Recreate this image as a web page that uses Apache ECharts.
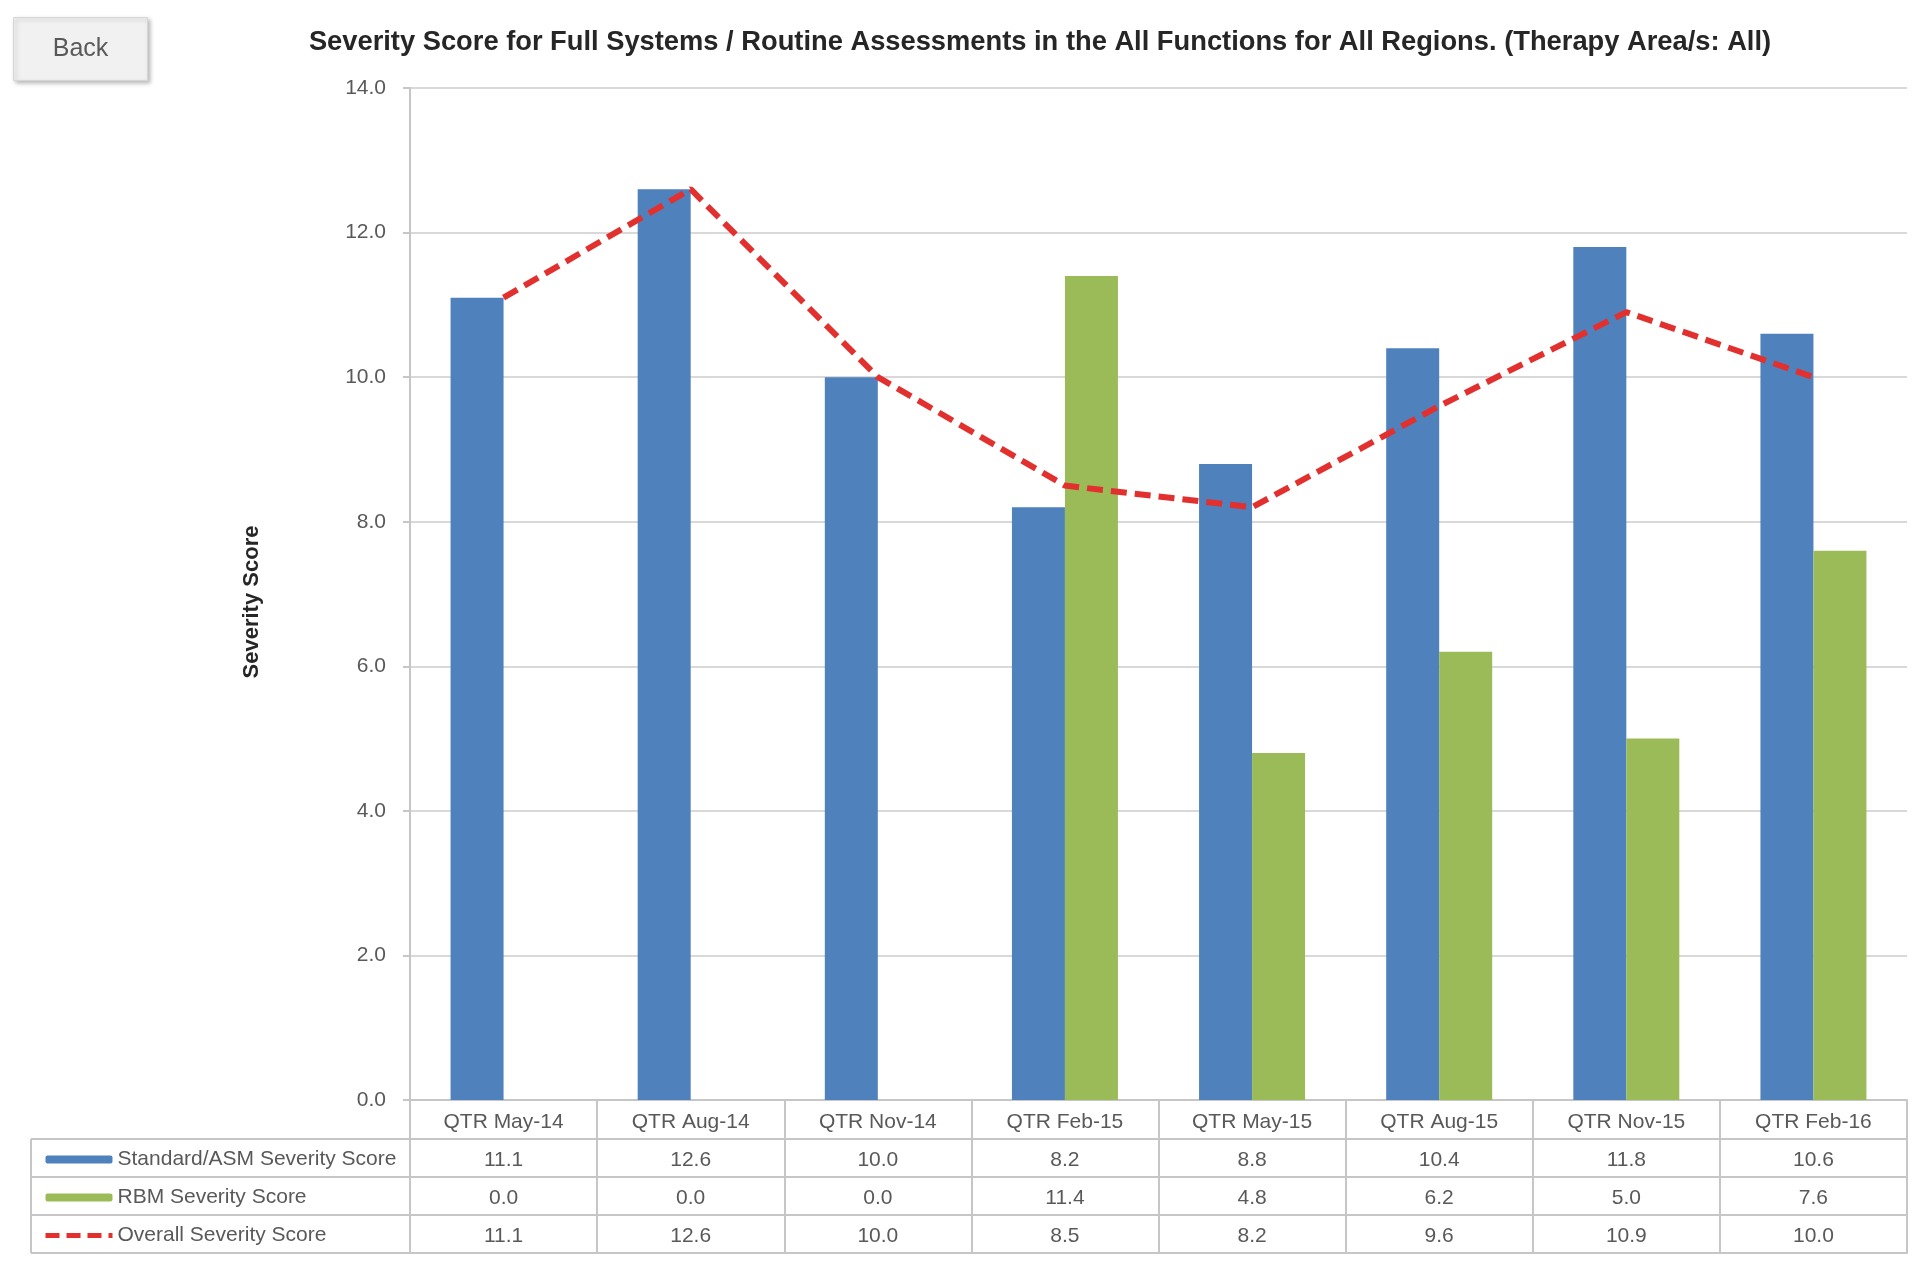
<!DOCTYPE html>
<html>
<head>
<meta charset="utf-8">
<script src="https://cdn.jsdelivr.net/npm/echarts@6/dist/echarts.min.js"></script>
<style>
html,body{margin:0;padding:0;background:#fff;}
#main{width:1920px;height:1263px;}
</style>
</head>
<body>
<div id="main"></div>
<script>
var categories = ['QTR May-14','QTR Aug-14','QTR Nov-14','QTR Feb-15','QTR May-15','QTR Aug-15','QTR Nov-15','QTR Feb-16'];
var standardScores = [11.1, 12.6, 10.0, 8.2, 8.8, 10.4, 11.8, 10.6];
var rbmScores = [0.0, 0.0, 0.0, 11.4, 4.8, 6.2, 5.0, 7.6];
var overallScores = [11.1, 12.6, 10.0, 8.5, 8.2, 9.6, 10.9, 10.0];
var seriesNames = ['Standard/ASM Severity Score', 'RBM Severity Score', 'Overall Severity Score'];
var yMin = 0, yMax = 14, yStep = 2;

var FONT = '"Liberation Sans", Arial, sans-serif';
var TXT = '#595959';
var LINE = '#c6c6c6';
var BLUE = '#4f81bd', GREEN = '#9bbb59', RED = '#e2302f';
var FS = 21;

var chart = echarts.init(document.getElementById('main'));

function rowAxis(offset, values, margin, showLabel) {
  return {
    type: 'category',
    data: categories,
    position: 'bottom',
    offset: offset,
    axisLine: { show: true, lineStyle: { color: LINE, width: 2 } },
    axisTick: { show: false },
    axisLabel: {
      show: showLabel,
      margin: margin,
      fontFamily: FONT,
      fontSize: FS,
      color: TXT,
      interval: 0,
      formatter: function (v, i) { return values ? values[i].toFixed(1) : v; }
    },
    splitLine: { show: false }
  };
}

var xAxes = [
  {
    type: 'category',
    data: categories,
    position: 'bottom',
    axisLine: { show: true, lineStyle: { color: LINE, width: 2 } },
    axisTick: { show: true, inside: false, length: 153, lineStyle: { color: LINE, width: 2 } },
    axisLabel: { margin: 12, fontFamily: FONT, fontSize: FS, color: TXT, interval: 0 },
    splitLine: { show: false }
  },
  rowAxis(39, standardScores, 10.5, true),
  rowAxis(77, rbmScores, 10.5, true),
  rowAxis(115, overallScores, 10.5, true),
  rowAxis(153, null, 10, false)
];

var tableLeft = 31, gridLeftPx = 410;
var rowYs = [1139, 1177, 1215, 1253];
var graphics = [
  {
    type: 'group', left: 13, top: 17,
    children: [
      { type: 'rect', shape: { x: 0, y: 0, width: 134, height: 63 },
        style: { fill: '#f1f1f1', stroke: '#d6d6d6', lineWidth: 1,
                 shadowBlur: 4, shadowOffsetX: 2, shadowOffsetY: 2, shadowColor: 'rgba(0,0,0,0.25)' } },
      { type: 'text', x: 67, y: 32,
        style: { text: 'Back', fontFamily: FONT, fontSize: 25, fill: TXT, align: 'center', verticalAlign: 'middle' } }
    ]
  },
  { type: 'line', shape: { x1: tableLeft, y1: rowYs[0], x2: tableLeft, y2: rowYs[3] },
    style: { stroke: LINE, lineWidth: 2 } }
];
rowYs.forEach(function (y) {
  graphics.push({ type: 'line', shape: { x1: tableLeft, y1: y, x2: gridLeftPx, y2: y },
    style: { stroke: LINE, lineWidth: 2 } });
});

var option = {
  backgroundColor: '#ffffff',
  animation: false,
  title: {
    text: 'Severity Score for Full Systems / Routine Assessments in the All Functions for All Regions. (Therapy Area/s: All)',
    left: 1035,
    textAlign: 'center',
    top: 24,
    textStyle: { fontFamily: FONT, fontSize: 27.3, fontWeight: 'bold', color: '#262626' }
  },
  legend: {
    orient: 'vertical',
    left: 43,
    top: 1144.5,
    padding: 0,
    itemWidth: 67,
    itemHeight: 8,
    itemGap: 8,
    selectedMode: false,
    data: [
      { name: seriesNames[0] },
      { name: seriesNames[1] },
      { name: seriesNames[2], itemStyle: { opacity: 0 },
        lineStyle: { color: RED, width: 5, type: [14, 7], opacity: 1 } }
    ],
    textStyle: { fontFamily: FONT, fontSize: FS, color: TXT, lineHeight: 30 }
  },
  grid: { left: 410, right: 13, top: 88, bottom: 163, containLabel: false },
  xAxis: xAxes,
  yAxis: {
    type: 'value',
    min: yMin, max: yMax, interval: yStep,
    name: 'Severity Score',
    nameLocation: 'middle',
    nameGap: 147,
    nameTextStyle: { fontFamily: FONT, fontSize: 22, fontWeight: 'bold', color: '#262626', padding: [0, 16, 0, 0] },
    axisLine: { show: true, lineStyle: { color: LINE, width: 2 } },
    axisTick: { show: true, length: 7, lineStyle: { color: LINE, width: 2 } },
    axisLabel: { margin: 24, fontFamily: FONT, fontSize: FS, color: TXT,
                 formatter: function (v) { return v.toFixed(1); } },
    splitLine: { show: true, lineStyle: { color: '#d9d9d9', width: 2 } }
  },
  series: [
    { name: seriesNames[0], type: 'bar', data: standardScores, barWidth: 53, barGap: '0%',
      itemStyle: { color: BLUE } },
    { name: seriesNames[1], type: 'bar', data: rbmScores, barWidth: 53, barGap: '0%',
      itemStyle: { color: GREEN } },
    { name: seriesNames[2], type: 'line', data: overallScores, symbol: 'none',
      lineStyle: { color: RED, width: 6, type: [16, 8] }, itemStyle: { color: RED }, z: 5 }
  ],
  graphic: graphics
};
chart.setOption(option);
</script>
</body>
</html>
